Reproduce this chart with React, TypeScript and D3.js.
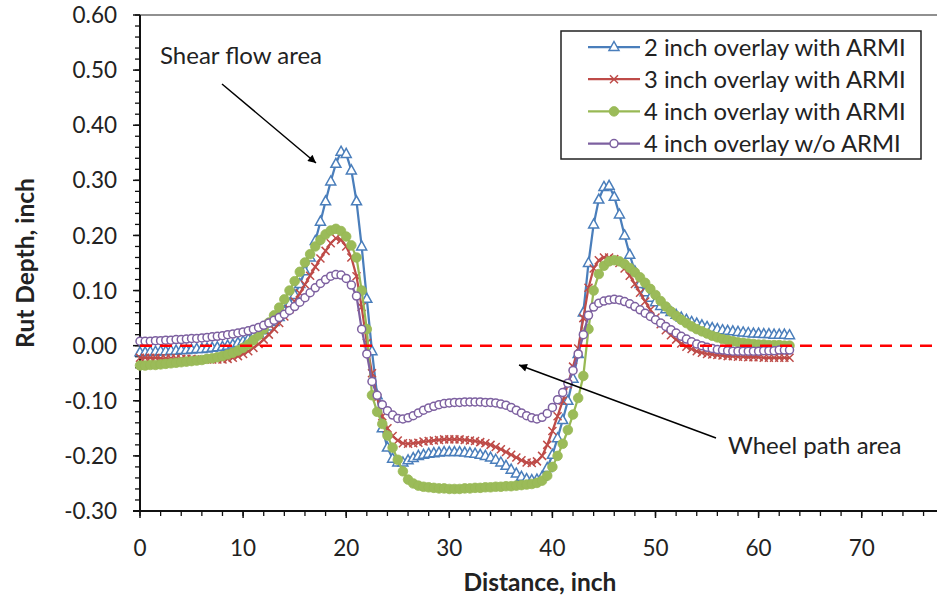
import React from "react";
import * as d3 from "d3";

// distance along the transverse profile, inch
const distance = [
  0, 0.5, 1, 1.5, 2, 2.5, 3, 3.5, 4, 4.5,
  5, 5.5, 6, 6.5, 7, 7.5, 8, 8.5, 9, 9.5,
  10, 10.5, 11, 11.5, 12, 12.5, 13, 13.5, 14, 14.5,
  15, 15.5, 16, 16.5, 17, 17.5, 18, 18.5, 19, 19.5,
  20, 20.5, 21, 21.5, 22, 22.5, 23, 23.5, 24, 24.5,
  25, 25.5, 26, 26.5, 27, 27.5, 28, 28.5, 29, 29.5,
  30, 30.5, 31, 31.5, 32, 32.5, 33, 33.5, 34, 34.5,
  35, 35.5, 36, 36.5, 37, 37.5, 38, 38.5, 39, 39.5,
  40, 40.5, 41, 41.5, 42, 42.5, 43, 43.5, 44, 44.5,
  45, 45.5, 46, 46.5, 47, 47.5, 48, 48.5, 49, 49.5,
  50, 50.5, 51, 51.5, 52, 52.5, 53, 53.5, 54, 54.5,
  55, 55.5, 56, 56.5, 57, 57.5, 58, 58.5, 59, 59.5,
  60, 60.5, 61, 61.5, 62, 62.5, 63
];

const rut2inArmi = [
  -0.012, -0.012, -0.011, -0.011, -0.010, -0.010, -0.009, -0.009, -0.008, -0.008,
  -0.007, -0.006, -0.006, -0.005, -0.004, -0.003, -0.002, 0.000, 0.002, 0.005,
  0.008, 0.012, 0.017, 0.022, 0.028, 0.035, 0.043, 0.052, 0.063, 0.076,
  0.092, 0.112, 0.135, 0.160, 0.190, 0.225, 0.262, 0.298, 0.330, 0.352,
  0.348, 0.318, 0.262, 0.180, 0.085, -0.010, -0.090, -0.150, -0.185, -0.205,
  -0.212, -0.212, -0.208, -0.204, -0.200, -0.198, -0.196, -0.195, -0.194, -0.193,
  -0.193, -0.193, -0.193, -0.194, -0.195, -0.196, -0.198, -0.200, -0.203, -0.207,
  -0.212, -0.218, -0.225, -0.232, -0.238, -0.242, -0.244, -0.243, -0.238, -0.222,
  -0.198, -0.168, -0.135, -0.100, -0.060, -0.015, 0.060, 0.150, 0.220, 0.265,
  0.288, 0.290, 0.270, 0.238, 0.200, 0.165, 0.135, 0.112, 0.097, 0.087,
  0.079, 0.072, 0.066, 0.061, 0.056, 0.051, 0.047, 0.043, 0.040, 0.037,
  0.034, 0.032, 0.030, 0.028, 0.027, 0.026, 0.025, 0.024, 0.023, 0.022,
  0.022, 0.021, 0.021, 0.020, 0.020, 0.020, 0.019
];

const rut3inArmi = [
  -0.022, -0.022, -0.022, -0.022, -0.023, -0.023, -0.023, -0.023, -0.024, -0.024,
  -0.024, -0.025, -0.025, -0.025, -0.025, -0.025, -0.025, -0.024, -0.022, -0.019,
  -0.015, -0.010, -0.004, 0.003, 0.011, 0.020, 0.030, 0.041, 0.053, 0.066,
  0.080, 0.095, 0.111, 0.127, 0.143, 0.158, 0.172, 0.186, 0.195, 0.192,
  0.180, 0.160, 0.126, 0.070, 0.005, -0.050, -0.095, -0.128, -0.150, -0.164,
  -0.172, -0.177, -0.178, -0.177, -0.176, -0.174, -0.173, -0.172, -0.171, -0.170,
  -0.170, -0.170, -0.170, -0.171, -0.172, -0.173, -0.175, -0.177, -0.180, -0.184,
  -0.188, -0.193, -0.198, -0.203, -0.208, -0.212, -0.213, -0.210, -0.200, -0.180,
  -0.155, -0.128, -0.100, -0.070, -0.038, -0.005, 0.050, 0.105, 0.140, 0.155,
  0.160, 0.160, 0.157, 0.150, 0.140, 0.127, 0.112, 0.096, 0.080, 0.065,
  0.051, 0.039, 0.028, 0.019, 0.011, 0.004, -0.002, -0.006, -0.010, -0.013,
  -0.015, -0.016, -0.017, -0.018, -0.019, -0.019, -0.020, -0.020, -0.021, -0.021,
  -0.021, -0.022, -0.022, -0.022, -0.022, -0.022, -0.022
];

const rut4inArmi = [
  -0.036, -0.036, -0.035, -0.035, -0.034, -0.033, -0.032, -0.031, -0.030, -0.029,
  -0.028, -0.027, -0.026, -0.024, -0.023, -0.021, -0.019, -0.016, -0.013, -0.009,
  -0.004, 0.002, 0.010, 0.019, 0.030, 0.042, 0.055, 0.069, 0.084, 0.100,
  0.117, 0.134, 0.151, 0.166, 0.180, 0.192, 0.202, 0.209, 0.212, 0.208,
  0.198, 0.182, 0.160, 0.100, 0.030, -0.090, -0.120, -0.142, -0.163, -0.185,
  -0.207, -0.228, -0.243, -0.250, -0.254, -0.256, -0.257, -0.258, -0.259, -0.259,
  -0.260, -0.260, -0.260, -0.259, -0.259, -0.258, -0.258, -0.257, -0.257, -0.256,
  -0.256, -0.255, -0.255, -0.254, -0.253, -0.252, -0.251, -0.249, -0.245, -0.236,
  -0.220, -0.200, -0.178, -0.153, -0.125, -0.095, -0.055, 0.030, 0.100, 0.130,
  0.145, 0.153, 0.155, 0.153, 0.148, 0.141, 0.133, 0.124, 0.114, 0.103,
  0.092, 0.081, 0.071, 0.062, 0.054, 0.047, 0.041, 0.035, 0.030, 0.026,
  0.022, 0.018, 0.015, 0.012, 0.010, 0.008, 0.006, 0.005, 0.004, 0.003,
  0.002, 0.002, 0.001, 0.001, 0.001, 0.000, 0.000
];

const rut4inNoArmi = [
  0.008, 0.008, 0.008, 0.009, 0.009, 0.010, 0.010, 0.011, 0.011, 0.012,
  0.013, 0.013, 0.014, 0.015, 0.016, 0.017, 0.018, 0.020, 0.021, 0.023,
  0.025, 0.027, 0.030, 0.033, 0.037, 0.041, 0.046, 0.051, 0.057, 0.064,
  0.071, 0.079, 0.087, 0.096, 0.105, 0.113, 0.120, 0.126, 0.129, 0.128,
  0.122, 0.110, 0.090, 0.030, -0.015, -0.065, -0.090, -0.107, -0.118, -0.126,
  -0.132, -0.133, -0.131, -0.127, -0.122, -0.117, -0.113, -0.110, -0.107, -0.105,
  -0.104, -0.103, -0.103, -0.102, -0.102, -0.102, -0.102, -0.103, -0.103, -0.104,
  -0.106, -0.108, -0.112, -0.117, -0.122, -0.127, -0.131, -0.133, -0.130, -0.123,
  -0.112, -0.098, -0.085, -0.068, -0.045, -0.015, 0.020, 0.055, 0.070, 0.077,
  0.081, 0.083, 0.084, 0.083, 0.080, 0.076, 0.071, 0.065, 0.059, 0.053,
  0.047, 0.041, 0.035, 0.029, 0.023, 0.017, 0.012, 0.007, 0.003, 0.000,
  -0.003, -0.005, -0.007, -0.008, -0.009, -0.010, -0.010, -0.010, -0.010, -0.010,
  -0.010, -0.009, -0.009, -0.009, -0.008, -0.008, -0.008
];

const seriesNames = [
  "2 inch overlay with ARMI",
  "3 inch overlay with ARMI",
  "4 inch overlay with ARMI",
  "4 inch overlay w/o ARMI"
];
const seriesValues = [rut2inArmi, rut3inArmi, rut4inArmi, rut4inNoArmi];
const seriesColors = ["#4A7EBB", "#BE4B48", "#98B954", "#7D60A0"];
const seriesMarkers = ["triangle", "x", "dot", "ring"];

const xDomain = [0, 80];
const yDomain = [-0.3, 0.6];
const xLabelMax = 70; // the 80 label falls outside the picture
const referenceLine = [0, 80]; // zero line drawn across the plot

const width = 937;
const height = 600;
const left = 140;
const top = 15;
const bottom = 511;
const pxPerInch = 10.31;
const font = "Lato, 'Open Sans', sans-serif";

export default function App() {
  const svgRef = React.useRef(null);

  React.useEffect(() => {
    document.body.style.margin = "0";
    document.body.style.overflow = "hidden";

    const svg = d3.select(svgRef.current);
    svg.selectAll("*").remove();

    const x = d3.scaleLinear().domain(xDomain).range([left, left + (xDomain[1] - xDomain[0]) * pxPerInch]);
    const y = d3.scaleLinear().domain(yDomain).range([bottom, top]);

    svg.append("rect").attr("width", width).attr("height", height).attr("fill", "#fff");

    // plot area border (top edge, right side is off the picture)
    svg.append("line")
      .attr("x1", left).attr("x2", width).attr("y1", top).attr("y2", top)
      .attr("stroke", "#222").attr("stroke-width", 1.2);

    //Axes.
    const axis = svg.append("g").attr("stroke", "#111");
    axis.append("line").attr("x1", left).attr("x2", left).attr("y1", top).attr("y2", bottom).attr("stroke-width", 2);
    axis.append("line").attr("x1", left - 7).attr("x2", width).attr("y1", bottom).attr("y2", bottom).attr("stroke-width", 2);

    y.ticks(45).forEach(t => {
      axis.append("line").attr("x1", left - 5).attr("x2", left).attr("y1", y(t)).attr("y2", y(t)).attr("stroke-width", 1.3);
    });
    y.ticks(9).forEach(t => {
      axis.append("line").attr("x1", left - 7).attr("x2", left).attr("y1", y(t)).attr("y2", y(t)).attr("stroke-width", 1.5);
      svg.append("text")
        .attr("x", 117).attr("y", y(t)).attr("dy", "0.36em")
        .attr("text-anchor", "end")
        .attr("font-family", font).attr("font-size", 22.5).attr("fill", "#222")
        .text(t.toFixed(2));
    });

    x.ticks(40).forEach(t => {
      axis.append("line").attr("x1", x(t)).attr("x2", x(t)).attr("y1", bottom).attr("y2", bottom + 5).attr("stroke-width", 1.3);
    });
    x.ticks(8).forEach(t => {
      axis.append("line").attr("x1", x(t)).attr("x2", x(t)).attr("y1", bottom).attr("y2", bottom + 7).attr("stroke-width", 1.5);
      if (t > xLabelMax) return;
      svg.append("text")
        .attr("x", x(t)).attr("y", 548).attr("dy", "0.36em")
        .attr("text-anchor", "middle")
        .attr("font-family", font).attr("font-size", 22.5).attr("fill", "#222")
        .text(t);
    });

    svg.append("text")
      .attr("x", 540).attr("y", 582).attr("dy", "0.36em").attr("text-anchor", "middle")
      .attr("font-family", font).attr("font-size", 24.5).attr("font-weight", "bold").attr("fill", "#222")
      .text("Distance, inch");
    svg.append("text")
      .attr("transform", `translate(25, ${(top + bottom) / 2}) rotate(-90)`)
      .attr("dy", "0.36em").attr("text-anchor", "middle")
      .attr("font-family", font).attr("font-size", 24.5).attr("font-weight", "bold").attr("fill", "#222")
      .text("Rut Depth, inch");

    const drawMarker = (g, kind, color, cx, cy) => {
      if (kind === "triangle") {
        g.append("path")
          .attr("d", `M${cx},${cy - 5.5}L${cx + 5},${cy + 3.5}L${cx - 5},${cy + 3.5}Z`)
          .attr("fill", "#fff").attr("stroke", color).attr("stroke-width", 1.5);
      } else if (kind === "x") {
        g.append("path")
          .attr("d", `M${cx - 4},${cy - 4}L${cx + 4},${cy + 4}M${cx - 4},${cy + 4}L${cx + 4},${cy - 4}`)
          .attr("fill", "none").attr("stroke", color).attr("stroke-width", 1.5);
      } else if (kind === "dot") {
        g.append("circle").attr("cx", cx).attr("cy", cy).attr("r", 4.8).attr("fill", "#9BBB59").attr("stroke", color).attr("stroke-width", 0.8);
      } else {
        g.append("circle").attr("cx", cx).attr("cy", cy).attr("r", 4).attr("fill", "#fff").attr("stroke", color).attr("stroke-width", 1.5);
      }
    };

    //Series, drawn in Excel order so the last one sits on top.
    const line = d3.line().x(d => x(d[0])).y(d => y(d[1]));
    seriesValues.forEach((values, i) => {
      const points = distance.map((d, k) => [d, values[k]]);
      const g = svg.append("g");
      g.append("path")
        .datum(points)
        .attr("d", line)
        .attr("fill", "none")
        .attr("stroke", seriesColors[i])
        .attr("stroke-width", 2.25)
        .attr("stroke-linejoin", "round");
      points.forEach(p => drawMarker(g, seriesMarkers[i], seriesColors[i], x(p[0]), y(p[1])));
    });

    // zero reference
    svg.append("line")
      .attr("x1", x(referenceLine[0])).attr("x2", x(referenceLine[1]))
      .attr("y1", y(0)).attr("y2", y(0))
      .attr("stroke", "#FF0000").attr("stroke-width", 2.5).attr("stroke-dasharray", "12,8");

    //Annotations.
    const defs = svg.append("defs");
    defs.append("marker")
      .attr("id", "arrowHead")
      .attr("viewBox", "0 0 10 10").attr("refX", 10).attr("refY", 5)
      .attr("markerWidth", 11).attr("markerHeight", 8).attr("markerUnits", "userSpaceOnUse")
      .attr("orient", "auto")
      .append("path").attr("d", "M0,0L10,5L0,10Z").attr("fill", "#000");

    svg.append("text").attr("x", 160).attr("y", 55).attr("dy", "0.36em")
      .attr("font-family", font).attr("font-size", 24).attr("fill", "#222").text("Shear flow area");
    svg.append("line").attr("x1", 222).attr("y1", 84).attr("x2", 316).attr("y2", 163)
      .attr("stroke", "#000").attr("stroke-width", 1.5).attr("marker-end", "url(#arrowHead)");

    svg.append("text").attr("x", 728).attr("y", 445).attr("dy", "0.36em")
      .attr("font-family", font).attr("font-size", 24).attr("fill", "#222").text("Wheel path area");
    svg.append("line").attr("x1", 716).attr("y1", 438).attr("x2", 519).attr("y2", 365)
      .attr("stroke", "#000").attr("stroke-width", 1.5).attr("marker-end", "url(#arrowHead)");

    //Legend.
    const legend = svg.append("g");
    legend.append("rect")
      .attr("x", 561).attr("y", 31).attr("width", 360).attr("height", 128)
      .attr("fill", "#fff").attr("stroke", "#222").attr("stroke-width", 1.5);
    seriesNames.forEach((name, i) => {
      const ly = 47 + i * 32.2;
      legend.append("line").attr("x1", 588).attr("x2", 640).attr("y1", ly).attr("y2", ly)
        .attr("stroke", seriesColors[i]).attr("stroke-width", 2.25);
      drawMarker(legend, seriesMarkers[i], seriesColors[i], 614, ly);
      legend.append("text").attr("x", 644).attr("y", ly).attr("dy", "0.36em")
        .attr("font-family", font).attr("font-size", 23.8).attr("fill", "#222").text(name);
    });
  }, []);

  return <svg ref={svgRef} width={width} height={height} style={{ display: "block" }}></svg>;
}
